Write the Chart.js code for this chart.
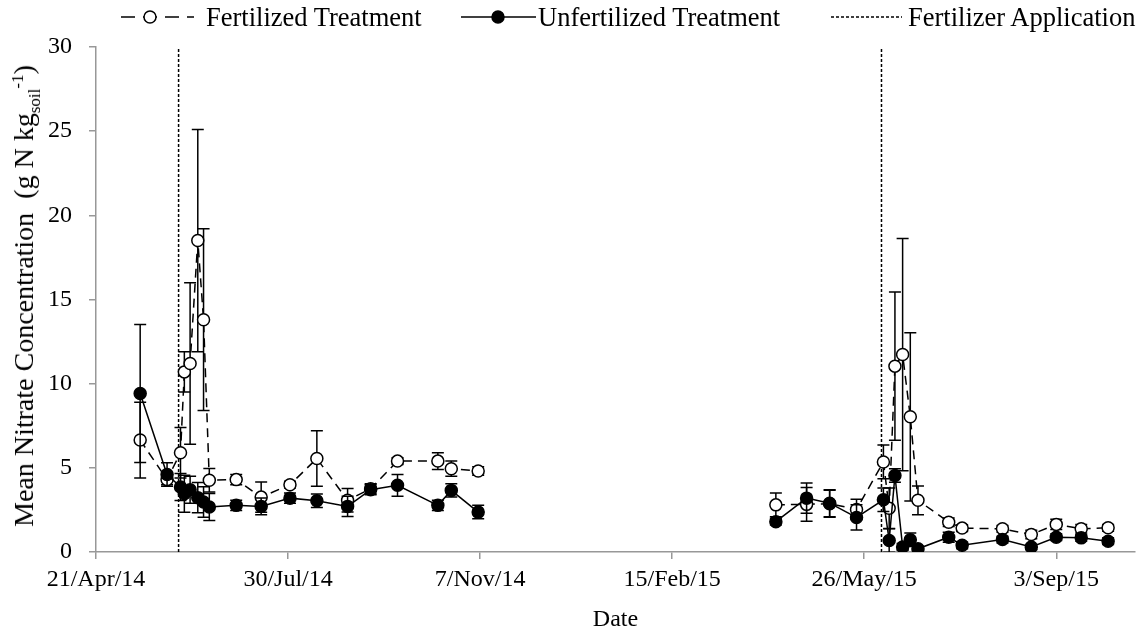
<!DOCTYPE html>
<html>
<head>
<meta charset="utf-8">
<title>Mean Nitrate Concentration</title>
<script src="https://cdn.jsdelivr.net/npm/chart.js@4.4.1/dist/chart.umd.min.js"></script>
<style>
    html, body { margin: 0; padding: 0; background: #fff; }
    #wrap { position: relative; width: 1143px; height: 632px; font-family: "Liberation Serif", "Times New Roman", serif; color: #000; }
    #chart { position: absolute; left: 0; top: 0; }
    .lg-sym { position: absolute; top: 4px; }
    .lg-txt { position: absolute; top: 0; height: 34px; line-height: 34px; font-size: 26.5px; white-space: nowrap; }
    #ytitle { position: absolute; left: 24px; top: 296px; transform: translate(-50%, -50%) rotate(-90deg); font-size: 28px; white-space: pre; line-height: 1; }
    #ytitle sub, #ytitle sup { font-size: 17px; line-height: 0; }
</style>
</head>
<body>
<div id="wrap">
    <canvas id="chart" width="1143" height="632"></canvas>

    <svg class="lg-sym" style="left:118px" width="80" height="26">
        <line x1="3" y1="13" x2="76" y2="13" stroke="#000" stroke-width="1.5" stroke-dasharray="14 8"/>
        <circle cx="32" cy="13" r="6" fill="#fff" stroke="#000" stroke-width="1.5"/>
    </svg>
    <span class="lg-txt" style="left:206px">Fertilized Treatment</span>

    <svg class="lg-sym" style="left:460px" width="78" height="26">
        <line x1="1" y1="13" x2="76" y2="13" stroke="#000" stroke-width="1.5"/>
        <circle cx="38" cy="13" r="6" fill="#000" stroke="#000" stroke-width="1.5"/>
    </svg>
    <span class="lg-txt" style="left:538px">Unfertilized Treatment</span>

    <svg class="lg-sym" style="left:830px" width="74" height="26">
        <line x1="1" y1="13" x2="72" y2="13" stroke="#000" stroke-width="1.5" stroke-dasharray="3 2"/>
    </svg>
    <span class="lg-txt" style="left:908px">Fertilizer Application</span>

    <div id="ytitle">Mean Nitrate Concentration  (g N kg<sub>soil</sub><sup>-1</sup>)</div>
</div>

<script>
// sampling dates, both seasons
const sampleDates = [
    '2014-05-14', '2014-05-28', '2014-06-04', '2014-06-06', '2014-06-09', '2014-06-13',
    '2014-06-16', '2014-06-19', '2014-07-03', '2014-07-16', '2014-07-31', '2014-08-14',
    '2014-08-30', '2014-09-11', '2014-09-25', '2014-10-16', '2014-10-23', '2014-11-06',
    '2015-04-10', '2015-04-26', '2015-05-08', '2015-05-22', '2015-06-05', '2015-06-08',
    '2015-06-11', '2015-06-15', '2015-06-19', '2015-06-23', '2015-07-09', '2015-07-16',
    '2015-08-06', '2015-08-21', '2015-09-03', '2015-09-16', '2015-09-30'
];

const fertilized = [
    6.65, 4.3, 5.9, 10.7, 11.2, 18.5, 13.8, 4.26, 4.3, 3.26, 4.0, 5.55, 3.07, 3.76, 5.4, 5.4, 4.95, 4.81,
    2.8, 2.83, 2.87, 2.53, 5.35, 2.6, 11.04, 11.73, 8.03, 3.07, 1.77, 1.42, 1.38, 1.04, 1.64, 1.38, 1.44
];
const fertilizedErr = [
    2.25, 0.3, 1.5, 1.2, 4.8, 6.6, 5.4, 0.7, 0.3, 0.9, 0.2, 1.65, 0.7, 0.3, 0.2, 0.5, 0.45, 0.25,
    0.7, 1.0, 0.8, 0.6, 1.0, 1.2, 4.4, 6.9, 5.0, 0.85, 0.25, 0.2, 0.2, 0.25, 0.3, 0.25, 0.2
];

const unfertilized = [
    9.42, 4.6, 3.86, 3.46, 3.7, 3.23, 2.97, 2.67, 2.77, 2.71, 3.2, 3.05, 2.71, 3.7, 3.96, 2.77, 3.66, 2.37,
    1.8, 3.2, 2.9, 2.05, 3.1, 0.68, 4.55, 0.3, 0.73, 0.19, 0.88, 0.4, 0.74, 0.3, 0.88, 0.84, 0.64
];
const unfertilizedErr = [
    4.1, 0.7, 0.8, 1.1, 0.8, 0.9, 0.9, 0.8, 0.3, 0.5, 0.3, 0.4, 0.6, 0.3, 0.65, 0.3, 0.4, 0.4,
    0.2, 0.9, 0.8, 0.75, 0.7, 0.7, 0.4, 0.2, 0.4, 0.15, 0.3, 0.2, 0.2, 0.15, 0.2, 0.2, 0.2
];

const applicationDates = ['2014-06-03', '2015-06-04'];

const xTickDates = ['2014-04-21', '2014-07-30', '2014-11-07', '2015-02-15', '2015-05-26', '2015-09-03'];
const xTickLabels = ['21/Apr/14', '30/Jul/14', '7/Nov/14', '15/Feb/15', '26/May/15', '3/Sep/15'];
const xAxisEnd = '2015-10-14';

const FONT = '"Liberation Serif", "Times New Roman", serif';

// days since the first tick
function dayOf(s) {
    const [y, m, d] = s.split('-').map(Number);
    return (Date.UTC(y, m - 1, d) - Date.UTC(2014, 3, 21)) / 864e5;
}

// points + a null break between the two seasons
function buildSeries(vals, errs) {
    const pts = [];
    sampleDates.forEach((d, i) => {
        const x = dayOf(d);
        if (i > 0 && x - dayOf(sampleDates[i - 1]) > 60) pts.push({ x: x - 1, y: null });
        pts.push({ x: x, y: vals[i], err: errs[i] });
    });
    return pts;
}

// error bars, drawn under each series' markers
const errorBars = {
    id: 'errorBars',
    beforeDatasetDraw(chart, args) {
        const ds = chart.data.datasets[args.index];
        if (!ds.withErrors) return;
        const { ctx, chartArea } = chart;
        const xs = chart.scales.x, ys = chart.scales.y;
        ctx.save();
        ctx.beginPath();
        ctx.rect(chartArea.left, chartArea.top, chartArea.right - chartArea.left, chartArea.bottom - chartArea.top);
        ctx.clip();
        ctx.strokeStyle = '#000';
        ctx.lineWidth = 1.5;
        ctx.setLineDash([]);
        ds.data.forEach(p => {
            if (p.y == null) return;
            const px = xs.getPixelForValue(p.x);
            const top = ys.getPixelForValue(p.y + p.err);
            const bot = ys.getPixelForValue(p.y - p.err);
            ctx.beginPath();
            ctx.moveTo(px, top); ctx.lineTo(px, bot);
            ctx.moveTo(px - 6, top); ctx.lineTo(px + 6, top);
            ctx.moveTo(px - 6, bot); ctx.lineTo(px + 6, bot);
            ctx.stroke();
        });
        ctx.restore();
    }
};

const datasets = [
    {
        label: 'Fertilized Treatment',
        data: buildSeries(fertilized, fertilizedErr),
        withErrors: true,
        borderColor: '#000',
        borderWidth: 1.5,
        borderDash: [9, 6],
        pointRadius: 6,
        pointBorderWidth: 1.5,
        pointBackgroundColor: '#fff',
        pointBorderColor: '#000',
        order: 2
    },
    {
        label: 'Unfertilized Treatment',
        data: buildSeries(unfertilized, unfertilizedErr),
        withErrors: true,
        borderColor: '#000',
        borderWidth: 1.5,
        pointRadius: 6,
        pointBorderWidth: 1.5,
        pointBackgroundColor: '#000',
        pointBorderColor: '#000',
        order: 1
    }
];

applicationDates.forEach(d => {
    datasets.push({
        label: 'Fertilizer Application',
        data: [{ x: dayOf(d), y: 0 }, { x: dayOf(d), y: 30 }],
        borderColor: '#000',
        borderWidth: 1.5,
        borderDash: [3, 2],
        pointRadius: 0,
        order: 3
    });
});

Chart.defaults.font.family = FONT;
Chart.defaults.font.size = 24;
Chart.defaults.color = '#000';

new Chart(document.getElementById('chart'), {
    type: 'line',
    data: { datasets: datasets },
    plugins: [errorBars],
    options: {
        responsive: false,
        animation: false,
        spanGaps: false,
        layout: { padding: { top: 47, right: 8, left: 0, bottom: 0 } },
        plugins: {
            legend: { display: false },
            tooltip: { enabled: false }
        },
        elements: { line: { tension: 0 } },
        scales: {
            x: {
                type: 'linear',
                min: 0,
                max: dayOf(xAxisEnd),
                afterBuildTicks: s => { s.ticks = xTickDates.map(d => ({ value: dayOf(d) })); },
                afterFit: s => { s.height = 80; },
                ticks: {
                    autoSkip: false,
                    maxRotation: 0,
                    padding: 6,
                    callback: (v, i) => xTickLabels[i]
                },
                grid: { display: true, drawOnChartArea: false, drawTicks: true, tickLength: 7, color: '#989898', lineWidth: 1.5 },
                border: { display: true, color: '#989898', width: 1.5 },
                title: { display: true, text: 'Date', font: { size: 24, lineHeight: 1 }, padding: { top: 0, bottom: 0 } }
            },
            y: {
                min: 0,
                max: 30,
                afterFit: s => { s.width = 96; },
                ticks: { stepSize: 5, padding: 17 },
                grid: { display: true, drawOnChartArea: false, drawTicks: true, tickLength: 7, color: '#989898', lineWidth: 1.5 },
                border: { display: true, color: '#989898', width: 1.5 }
            }
        }
    }
});
</script>
</body>
</html>
